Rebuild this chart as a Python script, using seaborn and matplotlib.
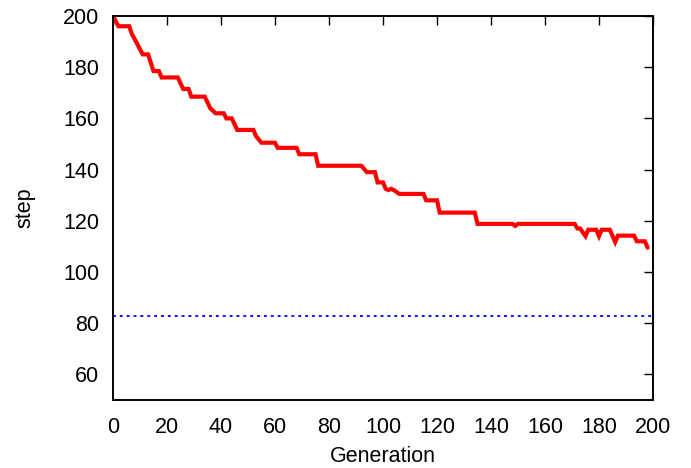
import matplotlib
matplotlib.use("Agg")
import matplotlib.pyplot as plt
import seaborn as sns
import pandas as pd

# Knots of the red curve (generation, step)
generation = [0, 2, 6, 7, 9, 11, 13, 15, 17, 18, 24, 26, 28, 29, 34, 36, 38, 41, 42, 44,
              46, 52, 53, 55, 60, 61, 68, 69, 75, 76, 92, 94, 97, 98, 100, 101, 102, 103,
              104, 106, 115, 116, 120, 121, 134, 135, 148, 149, 150, 171, 172, 173, 175,
              176, 179, 180, 181, 184, 186, 187, 193, 194, 197, 198]
step = [200, 196, 196, 193, 189, 185, 185, 178.5, 178.5, 176, 176, 171.5, 171.5, 168.5,
        168.5, 164, 162, 162, 160, 160, 155.5, 155.5, 153, 150.5, 150.5, 148.5, 148.5,
        146, 146, 141.5, 141.5, 139, 139, 135, 135, 132.5, 132, 132.5, 132, 130.5, 130.5,
        128, 128, 123.2, 123.2, 118.8, 118.8, 118, 118.8, 118.8, 117, 117, 114, 116.5,
        116.5, 114, 116.5, 116.5, 111.7, 114.2, 114.2, 112, 112, 109.5]
reference_step = 83

x_ticks = list(range(0, 201, 20))
y_ticks = list(range(60, 201, 20))

sns.set_style("white")
plt.rcParams['font.family'] = ['Liberation Sans', 'DejaVu Sans']
plt.rcParams['text.color'] = 'black'
plt.rcParams['axes.labelcolor'] = 'black'

fig = plt.figure(figsize=(6.91, 4.68), dpi=100)
ax = fig.add_axes([113/691, 1-400/468, (653-113)/691, (400-16)/468])

df = pd.DataFrame({"Generation": generation, "step": step})
sns.lineplot(data=df, x="Generation", y="step", ax=ax, color="#ff0000",
             linewidth=3.0, solid_joinstyle="miter", estimator=None, sort=False)
ax.axhline(reference_step, color="#0000ff", linewidth=1.3, linestyle=(0, (1.6, 2.2)))

ax.set_xlim(0, 200)
ax.set_ylim(50, 200)
ax.set_xticks(x_ticks)
ax.set_yticks(y_ticks)
ax.tick_params(direction="in", length=6.7, width=1.0, top=True, right=True,
               labelsize=15.5, colors="black")
ax.tick_params(axis="y", pad=10)
ax.tick_params(axis="x", pad=12)
for sp in ax.spines.values():
    sp.set_linewidth(1.4)
    sp.set_color("black")
ax.set_xlabel("Generation", fontsize=15.5, labelpad=6)
ax.set_ylabel("step", fontsize=15.5, labelpad=20)

fig.savefig("out.png", dpi=100)
